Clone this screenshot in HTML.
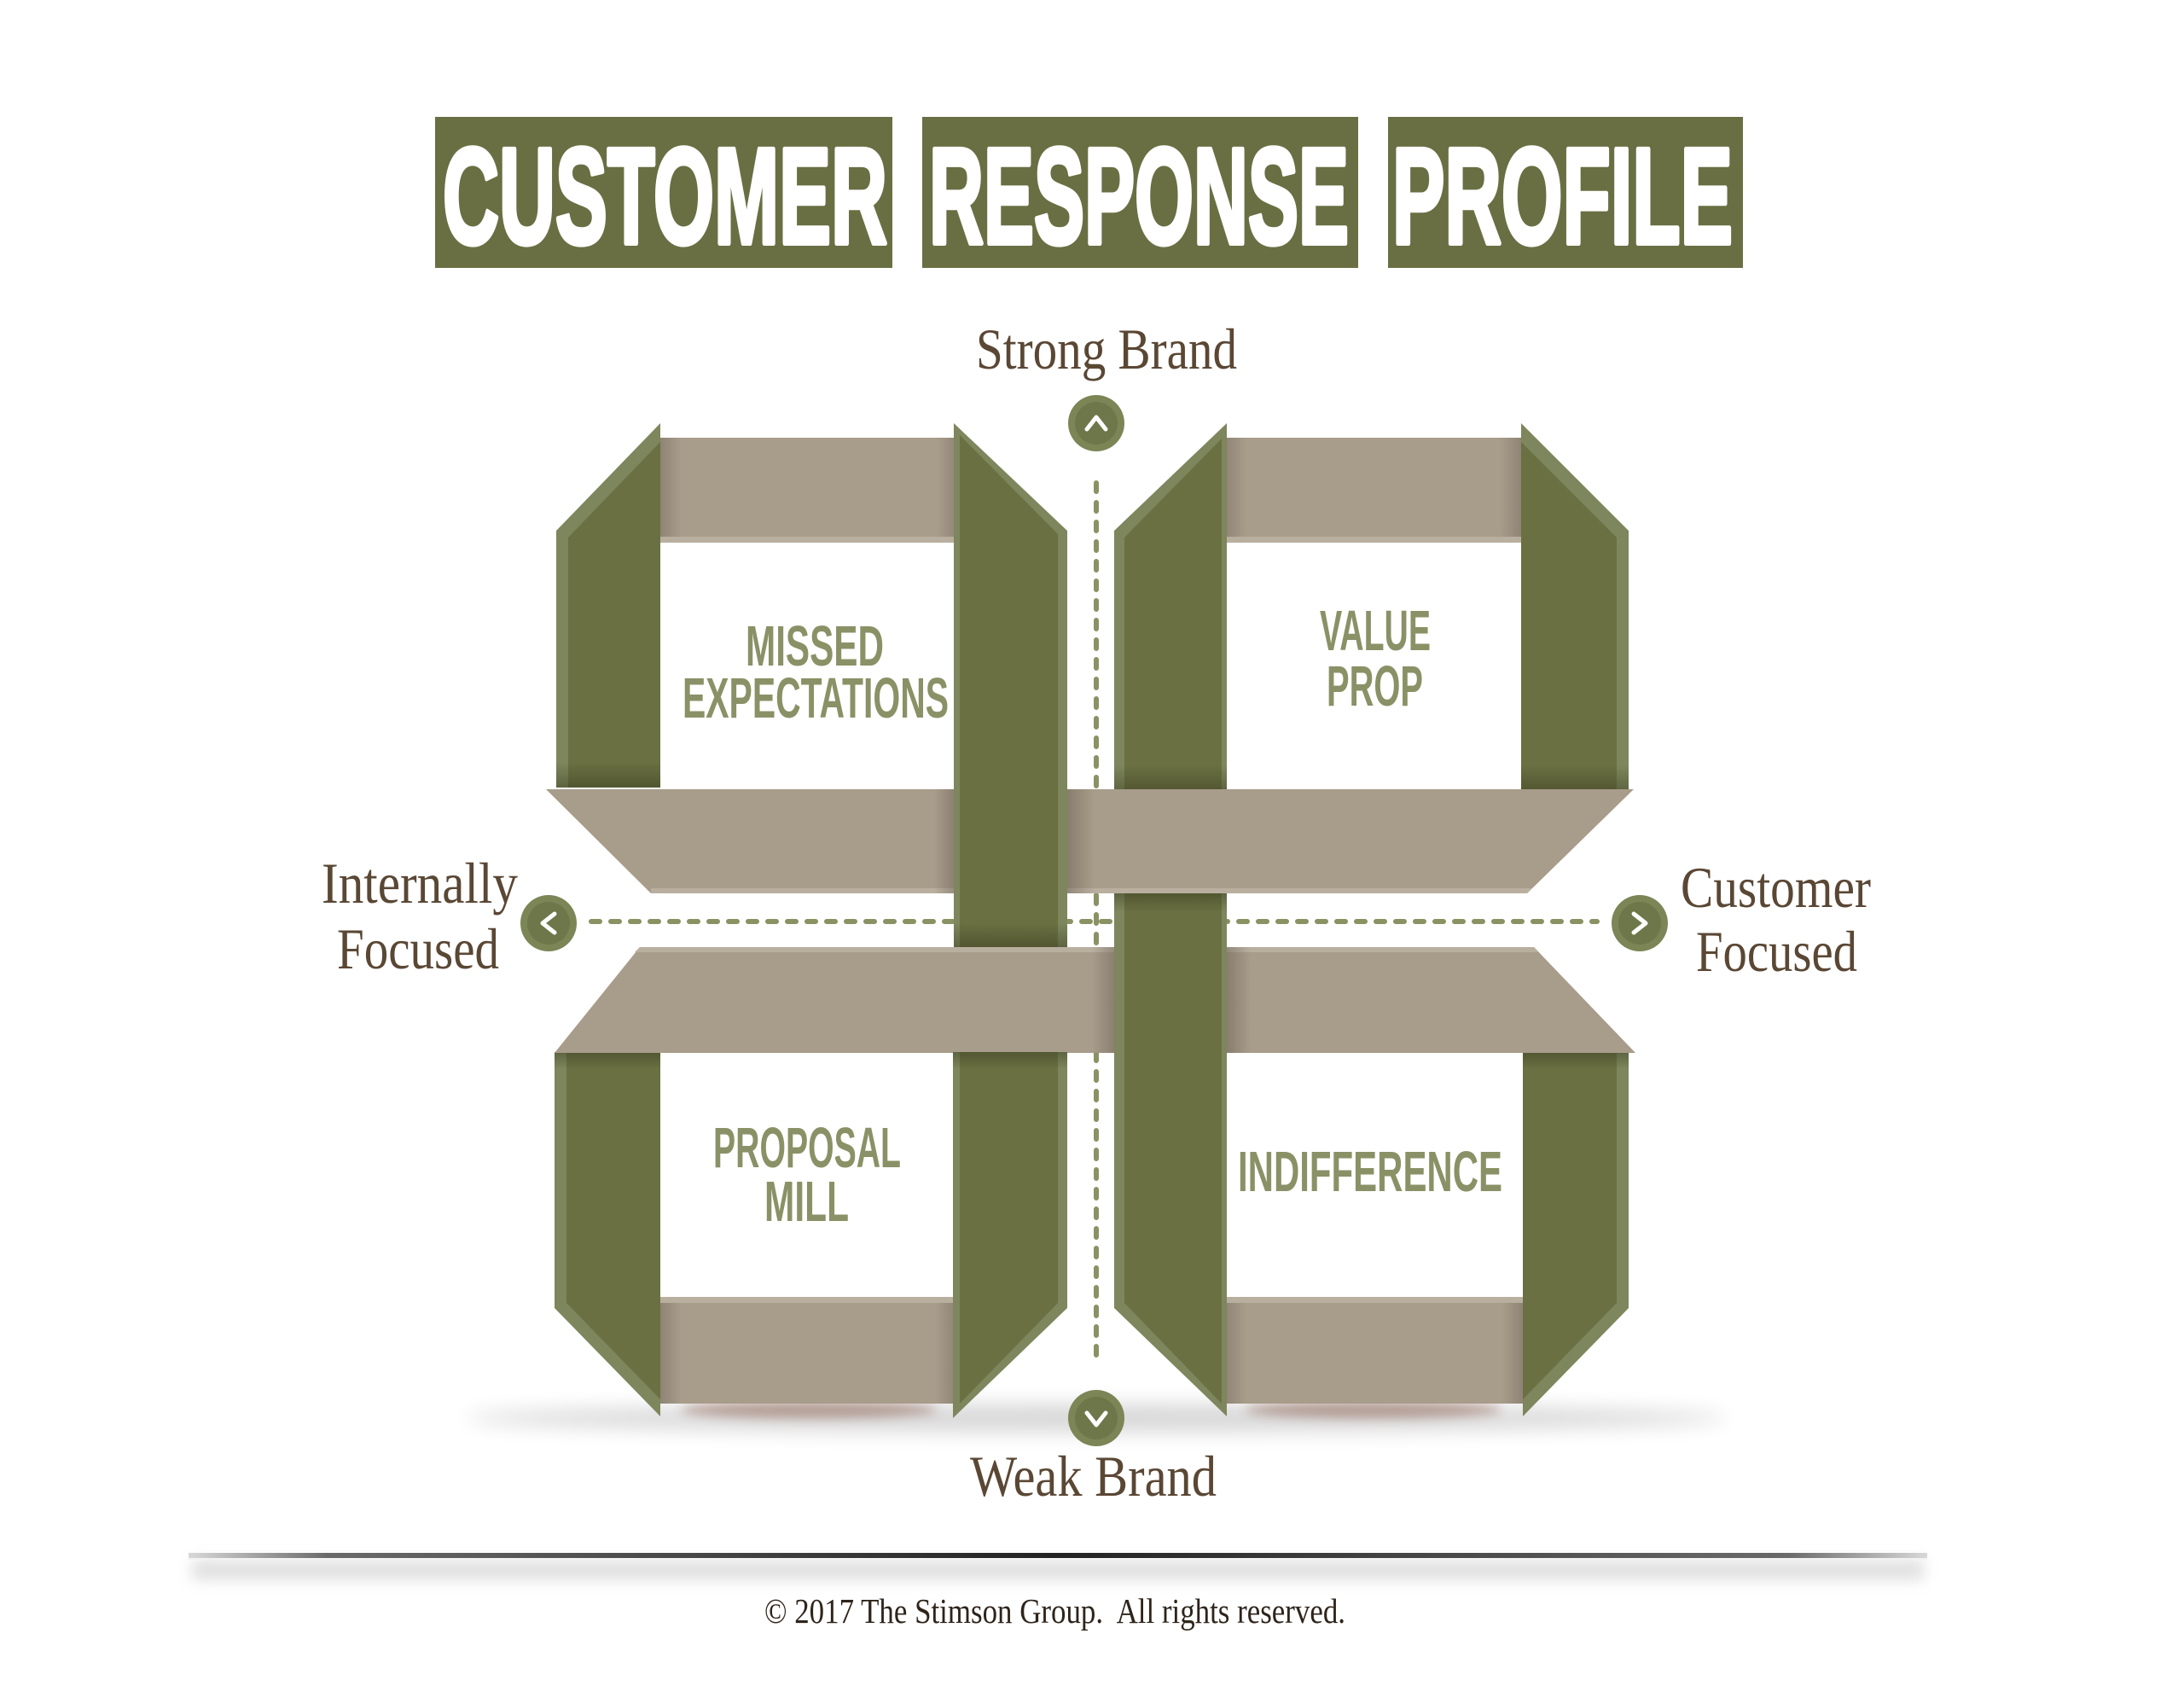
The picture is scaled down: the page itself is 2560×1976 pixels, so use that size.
<!DOCTYPE html>
<html>
<head>
<meta charset="utf-8">
<style>
  html, body { margin:0; padding:0; background:#ffffff; }
  body { width:2560px; height:1976px; overflow:hidden; }
  svg { display:block; }
  .ttl { font-family:"Liberation Sans", Arial, sans-serif; font-weight:bold; fill:#ffffff; stroke:#ffffff; stroke-width:6; stroke-linejoin:round; }
  .q { font-family:"Liberation Sans", Arial, sans-serif; font-weight:bold; fill:#8a9166; }
  .lbl { font-family:"Liberation Serif", "Times New Roman", serif; fill:#5a4734; }
  .copy { font-family:"Liberation Serif", "Times New Roman", serif; fill:#2e241a; white-space:pre; }
</style>
</head>
<body>
<svg width="2560" height="1976" viewBox="0 0 2560 1976" xmlns="http://www.w3.org/2000/svg">
  <defs>
    <linearGradient id="tanH" x1="0" y1="0" x2="1" y2="0">
      <stop offset="0" stop-color="#8b8073"/>
      <stop offset="0.08" stop-color="#a89c8a"/>
      <stop offset="0.92" stop-color="#a89c8a"/>
      <stop offset="1" stop-color="#8b8073"/>
    </linearGradient>
    <linearGradient id="shDown" x1="0" y1="0" x2="0" y2="1">
      <stop offset="0" stop-color="#2e3018" stop-opacity="0"/>
      <stop offset="1" stop-color="#2e3018" stop-opacity="0.4"/>
    </linearGradient>
    <linearGradient id="shUp" x1="0" y1="0" x2="0" y2="1">
      <stop offset="0" stop-color="#2e3018" stop-opacity="0.4"/>
      <stop offset="1" stop-color="#2e3018" stop-opacity="0"/>
    </linearGradient>
    <linearGradient id="tshL" x1="0" y1="0" x2="1" y2="0">
      <stop offset="0" stop-color="#5e5448" stop-opacity="0.45"/>
      <stop offset="1" stop-color="#5e5448" stop-opacity="0"/>
    </linearGradient>
    <linearGradient id="tshR" x1="0" y1="0" x2="1" y2="0">
      <stop offset="0" stop-color="#5e5448" stop-opacity="0"/>
      <stop offset="1" stop-color="#5e5448" stop-opacity="0.45"/>
    </linearGradient>
    <linearGradient id="rule" x1="0" y1="0" x2="1" y2="0">
      <stop offset="0" stop-color="#d8d8d8"/>
      <stop offset="0.08" stop-color="#6a6a6a"/>
      <stop offset="0.5" stop-color="#222222"/>
      <stop offset="0.92" stop-color="#6a6a6a"/>
      <stop offset="1" stop-color="#d8d8d8"/>
    </linearGradient>
    <filter id="blur12" x="-20%" y="-200%" width="140%" height="500%"><feGaussianBlur stdDeviation="12"/></filter>
    <filter id="blur6" x="-20%" y="-200%" width="140%" height="500%"><feGaussianBlur stdDeviation="6"/></filter>
    <filter id="blur8" x="-10%" y="-300%" width="120%" height="700%"><feGaussianBlur stdDeviation="8"/></filter>
  </defs>

  <!-- ===== Title ===== -->
  <rect x="510" y="137" width="536" height="177" fill="#6a6f43"/>
  <rect x="1081" y="137" width="511" height="177" fill="#6a6f43"/>
  <rect x="1627" y="137" width="416" height="177" fill="#6a6f43"/>
  <text class="ttl" x="519" y="285" font-size="160" textLength="521" lengthAdjust="spacingAndGlyphs">CUSTOMER</text>
  <text class="ttl" x="1089" y="285" font-size="160" textLength="492" lengthAdjust="spacingAndGlyphs">RESPONSE</text>
  <text class="ttl" x="1632" y="285" font-size="160" textLength="399" lengthAdjust="spacingAndGlyphs">PROFILE</text>

  <!-- ===== Axis labels ===== -->
  <text class="lbl" x="1144" y="432" font-size="68" textLength="306" lengthAdjust="spacingAndGlyphs">Strong Brand</text>
  <text class="lbl" x="377" y="1058" font-size="68" textLength="230" lengthAdjust="spacingAndGlyphs">Internally</text>
  <text class="lbl" x="395" y="1135" font-size="68" textLength="190" lengthAdjust="spacingAndGlyphs">Focused</text>
  <text class="lbl" x="1970" y="1063" font-size="68" textLength="223" lengthAdjust="spacingAndGlyphs">Customer</text>
  <text class="lbl" x="1988" y="1138" font-size="68" textLength="189" lengthAdjust="spacingAndGlyphs">Focused</text>
  <text class="lbl" x="1137" y="1753" font-size="68" textLength="289" lengthAdjust="spacingAndGlyphs">Weak Brand</text>

  <!-- ===== Shadows under the figure ===== -->
  <ellipse cx="1285" cy="1662" rx="740" ry="16" fill="#000" opacity="0.16" filter="url(#blur12)"/>
  <ellipse cx="948" cy="1652" rx="150" ry="10" fill="#7a4a38" opacity="0.45" filter="url(#blur6)"/>
  <ellipse cx="1610" cy="1652" rx="150" ry="10" fill="#7a4a38" opacity="0.45" filter="url(#blur6)"/>

  <!-- ===== Dashed axes ===== -->
  <line x1="1285" y1="566" x2="1285" y2="1600" stroke="#8a9163" stroke-width="6" stroke-dasharray="10 13" stroke-linecap="round"/>
  <line x1="693" y1="1080" x2="1872" y2="1080" stroke="#8a9163" stroke-width="6" stroke-dasharray="10 13" stroke-linecap="round"/>

  <!-- ===== Top tan bands ===== -->
  <rect x="770" y="513" width="357" height="118" fill="url(#tanH)"/>
  <rect x="774" y="629" width="349" height="7" fill="#b9af9f"/>
  <rect x="1432" y="513" width="355" height="118" fill="url(#tanH)"/>
  <rect x="1436" y="629" width="347" height="7" fill="#b9af9f"/>

  <!-- ===== Bottom tan bands ===== -->
  <rect x="770" y="1525" width="355" height="120" fill="url(#tanH)"/>
  <rect x="774" y="1520" width="347" height="7" fill="#b9af9f"/>
  <rect x="1432" y="1525" width="357" height="120" fill="url(#tanH)"/>
  <rect x="1436" y="1520" width="349" height="7" fill="#b9af9f"/>

  <!-- ===== Green A upper (TL left) ===== -->
  <polygon points="652,622 774,496 774,923 652,923" fill="#7d865c"/>
  <polygon points="666,630 774,518 774,923 666,923" fill="#6a7042"/>
  <rect x="652" y="893" width="122" height="30" fill="url(#shDown)"/>

  <!-- ===== Green D upper (TR right) ===== -->
  <polygon points="1783,496 1909,622 1909,927 1783,927" fill="#7d865c"/>
  <polygon points="1783,518 1895,630 1895,927 1783,927" fill="#6a7042"/>
  <rect x="1783" y="897" width="126" height="30" fill="url(#shDown)"/>

  <!-- ===== Green A lower (BL left) ===== -->
  <polygon points="650,1233 774,1233 774,1660 650,1533" fill="#7d865c"/>
  <polygon points="664,1233 774,1233 774,1640 664,1527" fill="#6a7042"/>
  <rect x="650" y="1233" width="124" height="20" fill="url(#shUp)"/>

  <!-- ===== Green D lower (BR right) ===== -->
  <polygon points="1785,1233 1909,1233 1909,1533 1785,1660" fill="#7d865c"/>
  <polygon points="1785,1233 1895,1233 1895,1527 1785,1640" fill="#6a7042"/>
  <rect x="1785" y="1233" width="124" height="20" fill="url(#shUp)"/>

  <!-- ===== Lower middle tan band ===== -->
  <polygon points="750,1110 1798,1110 1917,1234 650,1234" fill="#a89c8a"/>
  <polygon points="750,1110 1798,1110 1804,1116 744,1116" fill="#b9af9f"/>
  <rect x="1280" y="1110" width="30" height="124" fill="url(#tshR)"/>
  <rect x="1436" y="1110" width="30" height="124" fill="url(#tshL)"/>

  <!-- ===== Green C (TR left / BR left, full) ===== -->
  <polygon points="1306,622 1438,496 1438,1660 1306,1533" fill="#7d865c"/>
  <polygon points="1318,630 1432,514 1432,1645 1318,1527" fill="#6a7042"/>
  <rect x="1306" y="897" width="132" height="30" fill="url(#shDown)"/>
  <rect x="1306" y="1047" width="132" height="22" fill="url(#shUp)"/>

  <!-- ===== Upper middle tan band ===== -->
  <polygon points="640,925 1915,925 1790,1047 763,1047" fill="#a89c8a"/>
  <polygon points="763,1041 1796,1041 1790,1047 763,1047" fill="#b9af9f"/>
  <rect x="1249" y="925" width="34" height="122" fill="url(#tshL)"/>
  <rect x="1095" y="925" width="28" height="122" fill="url(#tshR)"/>

  <!-- ===== Green B upper (TL right) ===== -->
  <polygon points="1118,496 1251,622 1251,1110 1118,1110" fill="#7d865c"/>
  <polygon points="1125,510 1240,626 1240,1110 1125,1110" fill="#6a7042"/>
  <rect x="1118" y="1082" width="133" height="28" fill="url(#shDown)"/>

  <!-- ===== Green B lower (BL right) ===== -->
  <polygon points="1117,1233 1251,1233 1251,1533 1117,1662" fill="#7d865c"/>
  <polygon points="1125,1233 1240,1233 1240,1527 1125,1645" fill="#6a7042"/>
  <rect x="1117" y="1233" width="134" height="20" fill="url(#shUp)"/>

  <!-- ===== Quadrant labels ===== -->
  <text class="q" x="874" y="780" font-size="67" textLength="162" lengthAdjust="spacingAndGlyphs">MISSED</text>
  <text class="q" x="800" y="841" font-size="67" textLength="312" lengthAdjust="spacingAndGlyphs">EXPECTATIONS</text>
  <text class="q" x="1547" y="762" font-size="67" textLength="130" lengthAdjust="spacingAndGlyphs">VALUE</text>
  <text class="q" x="1555" y="827" font-size="67" textLength="113" lengthAdjust="spacingAndGlyphs">PROP</text>
  <text class="q" x="836" y="1368" font-size="67" textLength="220" lengthAdjust="spacingAndGlyphs">PROPOSAL</text>
  <text class="q" x="896" y="1431" font-size="67" textLength="99" lengthAdjust="spacingAndGlyphs">MILL</text>
  <text class="q" x="1451" y="1396" font-size="67" textLength="310" lengthAdjust="spacingAndGlyphs">INDIFFERENCE</text>

  <!-- ===== Axis circles ===== -->
  <g>
    <circle cx="1285" cy="496" r="33" fill="#7b8556"/>
    <circle cx="1285" cy="496" r="25" fill="#6e774a"/>
    <polyline points="1274,503 1285,489 1296,503" fill="none" stroke="#fff" stroke-width="5" stroke-linecap="round" stroke-linejoin="round"/>
  </g>
  <g>
    <circle cx="1285" cy="1662" r="33" fill="#7b8556"/>
    <circle cx="1285" cy="1662" r="25" fill="#6e774a"/>
    <polyline points="1274,1656 1285,1670 1296,1656" fill="none" stroke="#fff" stroke-width="5" stroke-linecap="round" stroke-linejoin="round"/>
  </g>
  <g>
    <circle cx="643" cy="1082" r="33" fill="#7b8556"/>
    <circle cx="643" cy="1082" r="25" fill="#6e774a"/>
    <polyline points="650,1071 636,1082 650,1093" fill="none" stroke="#fff" stroke-width="5" stroke-linecap="round" stroke-linejoin="round"/>
  </g>
  <g>
    <circle cx="1922" cy="1082" r="33" fill="#7b8556"/>
    <circle cx="1922" cy="1082" r="25" fill="#6e774a"/>
    <polyline points="1915,1071 1929,1082 1915,1093" fill="none" stroke="#fff" stroke-width="5" stroke-linecap="round" stroke-linejoin="round"/>
  </g>

  <!-- ===== Bottom rule ===== -->
  <rect x="225" y="1828" width="2030" height="24" fill="#c8c8c8" opacity="0.55" filter="url(#blur8)"/>
  <rect x="221" y="1820" width="2038" height="6" fill="url(#rule)"/>
  <rect x="221" y="1826" width="2038" height="2" fill="#f2f2f2"/>

  <!-- ===== Copyright ===== -->
  <text class="copy" x="896" y="1902" font-size="41" textLength="681" lengthAdjust="spacingAndGlyphs" xml:space="preserve">© 2017 The Stimson Group.  All rights reserved.</text>
</svg>
</body>
</html>
